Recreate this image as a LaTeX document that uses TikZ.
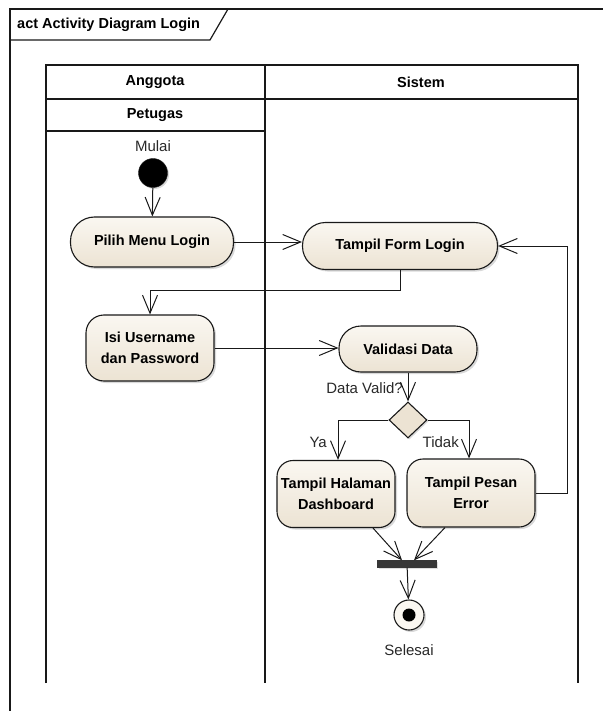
\documentclass[tikz,border=0pt]{standalone}
\usepackage{fontspec}
\setmainfont{Liberation Sans}
\usetikzlibrary{arrows.meta,shapes.geometric,shadows}

\definecolor{actfill}{RGB}{236,227,211}
\definecolor{acttop}{RGB}{250,247,241}
\definecolor{edgecol}{RGB}{25,25,25}
\definecolor{textcol}{RGB}{40,40,40}
\definecolor{barcol}{RGB}{55,55,55}

\begin{document}
\begin{tikzpicture}[x=1pt,y=-1pt,
  font=\fontsize{15}{17}\selectfont,
  activity/.style={draw=edgecol, line width=1.1pt, rounded corners=#1,
    top color=acttop, bottom color=actfill, align=center, inner sep=0pt,
    font=\fontsize{14.5}{21}\selectfont\bfseries,
    drop shadow={shadow xshift=2pt, shadow yshift=-2pt, opacity=0.3}},
  flow/.style={draw=edgecol, line width=1pt,
    -{Straight Barb[length=18pt,width=15pt,line width=1pt]}},
  lane/.style={draw=edgecol, line width=1.6pt},
  laneheader/.style={font=\fontsize{14.5}{17}\selectfont\bfseries, text=black},
  lbl/.style={text=textcol, inner sep=1pt, font=\fontsize{15}{17}\selectfont},
]
\useasboundingbox (0,0) rectangle (603,711);

% diagram frame and its name tab
\draw[draw=edgecol, line width=1.2pt] (10,711) -- (10,9) -- (603,9);
\draw[draw=edgecol, line width=1.2pt] (10,40) -- (210,40) -- (228,9);
\node[anchor=west, font=\fontsize{14.5}{17}\selectfont\bfseries, inner sep=0pt] (frametitle) at (17,25) {act Activity Diagram Login};

% swimlanes
\draw[lane] (46,683) -- (46,65) -- (578,65) -- (578,683);
\draw[lane] (265,65) -- (265,683);
\draw[lane, line width=2pt] (46,99) -- (578,99);
\draw[lane] (46,131) -- (265,131);
\node[laneheader] (anggota) at (155,82) {Anggota};
\node[laneheader] (sistem) at (421,82) {Sistem};
\node[laneheader] (petugas) at (155,115) {Petugas};

% nodes
\node[lbl] (mulai) at (153,146) {Mulai};
\node[circle, fill=black, draw=edgecol, minimum size=29pt, inner sep=0pt,
  drop shadow={shadow xshift=1.5pt, shadow yshift=-1.5pt, opacity=0.3}] (start) at (153,173) {};

\node[activity=24pt, minimum width=163pt, minimum height=50pt] (pilih) at (152,242) {Pilih Menu Login};
\node[activity=23pt, minimum width=195pt, minimum height=47pt] (form) at (400,246) {Tampil Form Login};
\node[activity=18pt, minimum width=128pt, minimum height=66pt] (isi) at (150,348) {Isi Username\\dan Password};
\node[activity=22pt, minimum width=138pt, minimum height=46pt] (validasi) at (408,349) {Validasi Data};

\node[diamond, draw=edgecol, line width=1.1pt, fill=actfill, minimum width=38pt, minimum height=36pt,
  inner sep=0pt, drop shadow={shadow xshift=1.5pt, shadow yshift=-1.5pt, opacity=0.3}] (dec) at (408,420) {};
\node[lbl, anchor=east] (validq) at (404,388) {Data Valid?};

\node[activity=16pt, minimum width=118pt, minimum height=67pt] (dash) at (336,494) {Tampil Halaman\\Dashboard};
\node[activity=16pt, minimum width=128pt, minimum height=68pt] (err) at (471,493) {Tampil Pesan\\Error};

\node[rectangle, fill=barcol, draw=barcol, minimum width=59pt, minimum height=7pt, inner sep=0pt,
  drop shadow={shadow xshift=1.5pt, shadow yshift=-1.5pt, opacity=0.25}] (bar) at (407,564) {};

\node[circle, draw=edgecol, line width=1.1pt, fill=acttop, minimum size=30pt, inner sep=0pt,
  drop shadow={shadow xshift=2pt, shadow yshift=-2pt, opacity=0.3}] (final) at (409,615) {};
\node[circle, fill=black, minimum size=13pt, inner sep=0pt] (finaldot) at (final.center) {};
\node[lbl] (selesai) at (409,650) {Selesai};

% guard labels
\node[lbl, anchor=east] (ya) at (328,442) {Ya};
\node[lbl, anchor=east] (tidak) at (460,442) {Tidak};

% connectors
\coordinate (k1) at (400,290);
\coordinate (k2) at (567,492);

\draw[flow] (start) -- (pilih);
\draw[flow] (pilih.east) -- (pilih.east -| form.west);
\draw[flow] (form.south) -- (k1) -| (isi.north);
\draw[flow] (isi.east) -- (isi.east -| validasi.west);
\draw[flow] (validasi) -- (dec);
\draw[flow] (dec.west) -| (dash.north -| 338,0);
\draw[flow] (dec.east) -| (err.north -| 469,0);
\draw[flow] (err.east) -- (err.east -| k2) |- (form.east);
\draw[flow] ([xshift=37pt]dash.south) -- ([xshift=-5pt]bar.north);
\draw[flow] ([xshift=-26pt]err.south) -- ([xshift=7pt]bar.north);
\draw[flow] (bar) -- (final);
\end{tikzpicture}
\end{document}
